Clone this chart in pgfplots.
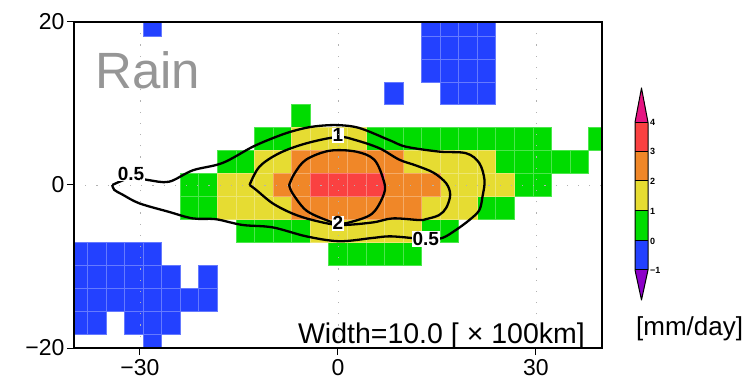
\documentclass[border=0pt]{standalone}
\usepackage{fontspec}
\setmainfont{Liberation Sans}
\usepackage{pgfplots}
\pgfplotsset{compat=1.18}
\definecolor{cblue}{RGB}{35,65,255}
\definecolor{cgreen}{RGB}{0,220,0}
\definecolor{cyellow}{RGB}{230,220,50}
\definecolor{corange}{RGB}{240,135,40}
\definecolor{cred}{RGB}{250,65,65}
\definecolor{cmag}{RGB}{230,20,130}
\definecolor{cpurple}{RGB}{140,0,200}
\definecolor{raingray}{RGB}{150,150,150}
\pgfplotsset{
  cell/.style={only marks, mark=square*, mark size=9.28bp,
    mark options={yscale=1.2347, fill=#1, draw=#1!70!white, line width=0.6bp}},
  contour/.style={black, line width=2.3bp, smooth, tension=0.55, mark=none},
}
\tikzset{
  clab/.style={fill=white, inner sep=1bp, font=\bfseries\fontsize{19bp}{21bp}\selectfont},
}
\begin{document}
\begin{tikzpicture}
\useasboundingbox (0,0) rectangle (752bp,380bp);
\begin{axis}[
  at={(74bp,32bp)}, anchor=south west, scale only axis,
  width=528bp, height=326bp,
  xmin=-40, xmax=40, ymin=-20, ymax=20,
  clip marker paths=true, clip mode=individual,
  xtick={-30,0,30}, ytick={-20,0,20},
  xticklabels={−30,0,30}, yticklabels={−20,0,20},
  xtick pos=bottom, ytick pos=left,
  tick align=outside, major tick length=7bp,
  tick style={black, line width=1bp},
  axis line style={black, line width=1.5bp},
  grid=major,
  major grid style={gray!60, dash pattern=on 1.2bp off 10bp, line width=0.8bp},
  axis on top,
  ticklabel style={font=\fontsize{23bp}{26bp}\selectfont},
  xticklabel style={yshift=-1bp},
  yticklabel style={xshift=1bp},
]
% blue cells (-1..0)
\addplot[cell=cblue] coordinates {
(-28.125,19.6875) (14.0625,19.6875) (16.875,19.6875) (19.6875,19.6875) (22.5,19.6875)
(14.0625,16.875) (16.875,16.875) (19.6875,16.875) (22.5,16.875)
(14.0625,14.0625) (16.875,14.0625) (19.6875,14.0625) (22.5,14.0625)
(8.4375,11.25) (16.875,11.25) (19.6875,11.25) (22.5,11.25)
(-39.375,-8.4375) (-36.5625,-8.4375) (-33.75,-8.4375) (-30.9375,-8.4375) (-28.125,-8.4375)
(-39.375,-11.25) (-36.5625,-11.25) (-33.75,-11.25) (-30.9375,-11.25) (-28.125,-11.25) (-25.3125,-11.25) (-19.6875,-11.25)
(-39.375,-14.0625) (-36.5625,-14.0625) (-33.75,-14.0625) (-30.9375,-14.0625) (-28.125,-14.0625) (-25.3125,-14.0625) (-22.5,-14.0625) (-19.6875,-14.0625)
(-39.375,-16.875) (-36.5625,-16.875) (-30.9375,-16.875) (-28.125,-16.875) (-25.3125,-16.875)
(-28.125,-19.6875)
};
% green cells (0..1)
\addplot[cell=cgreen] coordinates {
(-5.625,8.4375)
(-11.25,5.625) (-8.4375,5.625) (5.625,5.625) (8.4375,5.625) (11.25,5.625) (14.0625,5.625) (16.875,5.625) (19.6875,5.625) (22.5,5.625) (25.3125,5.625) (28.125,5.625) (30.9375,5.625) (39.375,5.625)
(-16.875,2.8125) (-14.0625,2.8125) (25.3125,2.8125) (28.125,2.8125) (30.9375,2.8125) (33.75,2.8125) (36.5625,2.8125)
(-22.5,0) (-19.6875,0) (28.125,0) (30.9375,0)
(-22.5,-2.8125) (-19.6875,-2.8125) (22.5,-2.8125) (25.3125,-2.8125)
(-14.0625,-5.625) (-11.25,-5.625) (-8.4375,-5.625) (-5.625,-5.625) (14.0625,-5.625) (16.875,-5.625)
(0,-8.4375) (2.8125,-8.4375) (5.625,-8.4375) (8.4375,-8.4375) (11.25,-8.4375)
};
% yellow cells (1..2)
\addplot[cell=cyellow] coordinates {
(-5.625,5.625) (-2.8125,5.625) (0,5.625) (2.8125,5.625)
(-11.25,2.8125) (-8.4375,2.8125) (11.25,2.8125) (14.0625,2.8125) (16.875,2.8125) (19.6875,2.8125) (22.5,2.8125)
(-16.875,0) (-14.0625,0) (-11.25,0) (16.875,0) (19.6875,0) (22.5,0) (25.3125,0)
(-16.875,-2.8125) (-14.0625,-2.8125) (-11.25,-2.8125) (-8.4375,-2.8125) (14.0625,-2.8125) (16.875,-2.8125) (19.6875,-2.8125)
(-2.8125,-5.625) (0,-5.625) (2.8125,-5.625) (5.625,-5.625) (8.4375,-5.625) (11.25,-5.625)
};
% orange cells (2..3)
\addplot[cell=corange] coordinates {
(-5.625,2.8125) (-2.8125,2.8125) (0,2.8125) (2.8125,2.8125) (5.625,2.8125) (8.4375,2.8125)
(-8.4375,0) (-5.625,0) (8.4375,0) (11.25,0) (14.0625,0)
(-5.625,-2.8125) (-2.8125,-2.8125) (0,-2.8125) (2.8125,-2.8125) (5.625,-2.8125) (8.4375,-2.8125) (11.25,-2.8125)
};
% red cells (3..4)
\addplot[cell=cred] coordinates {
(-2.8125,0) (0,0) (2.8125,0) (5.625,0)
};
% contour 0.5
\addplot[contour] coordinates {
(-34.2,0) (-31.3,0.9) (-28.7,0.6) (-25.6,0.4) (-22.0,1.8) (-17.5,2.7) (-12.9,4.7) (-9.4,5.9) (-6.9,6.6) (-3.9,7.15) (-0.3,7.35) (3.2,7.0) (7.8,5.5) (10.3,4.7) (15.3,4.1) (19.4,3.9) (21.4,2.7) (22.2,0.6) (21.9,-1.4) (21.4,-3.1) (19.9,-4.3) (17.9,-5.5) (15.8,-6.5) (13.3,-6.75) (11.1,-6.5) (7.8,-6.3) (5.2,-6.5) (0.2,-6.9) (-4.8,-6.3) (-9.9,-5.2) (-14.5,-4.9) (-18.5,-4.2) (-22.0,-4.1) (-25.6,-3.3) (-30.1,-2.25) (-32.6,-1.2) (-33.9,-0.6) (-34.2,0)
};
% contour 1
\addplot[contour] coordinates {
(-13.4,0) (-11.9,2.25) (-8.9,3.9) (-4.85,5.1) (0,5.9) (2.7,5.5) (6.3,4.5) (9.3,3.1) (11.8,2.4) (14.5,1.5) (16.4,0.2) (17.0,-1.2) (16.4,-2.8) (15.3,-3.7) (13.3,-4.2) (12.3,-4.3) (8.3,-4.1) (5.2,-4.6) (0.2,-4.9) (-3.85,-4.3) (-6.9,-3.5) (-9.9,-2.25) (-12.4,-0.6) (-13.4,0)
};
% contour 2
\addplot[contour] coordinates {
(-7.4,0) (-6.6,1.4) (-4.85,3.1) (-1.3,4.2) (2.7,4.1) (5.5,3.1) (6.9,0.6) (7.0,-1.0) (5.2,-3.5) (1.7,-4.6) (0,-4.7) (-1.8,-4.3) (-4.85,-3.1) (-6.9,-1.0) (-7.4,0)
};
\node[clab] at (axis cs:-31.35,1.4) {0.5};
\node[clab] at (axis cs:13.3,-6.6) {0.5};
\node[clab] at (axis cs:0,6.1) {1};
\node[clab] at (axis cs:0,-4.7) {2};
\end{axis}
% titles
\node[anchor=base west, inner sep=0, text=raingray, font=\fontsize{51bp}{56bp}\selectfont] at (95bp,291.7bp) {Rain};
\node[anchor=base east, inner sep=0, font=\fontsize{28.5bp}{32bp}\selectfont] at (585bp,36.7bp) {Width=10.0 [ × 100km]};
% colour bar
\begin{scope}[x=1bp,y=1bp]
\fill[cmag] (635,257.7) -- (641.5,292) -- (648,257.7) -- cycle;
\fill[cred] (635,228.3) rectangle (648,257.7);
\fill[corange] (635,199) rectangle (648,228.3);
\fill[cyellow] (635,169) rectangle (648,199);
\fill[cgreen] (635,139) rectangle (648,169);
\fill[cblue] (635,110) rectangle (648,139);
\fill[cpurple] (635,110) -- (641.5,80) -- (648,110) -- cycle;
\draw[line width=1bp, line join=round] (635,257.7) -- (641.5,292) -- (648,257.7) -- (648,110) -- (641.5,80) -- (635,110) -- cycle;
\foreach \yy in {257.7,228.3,199,169,139,110} \draw[line width=1bp] (635,\yy) -- (648,\yy);
\foreach \yy/\lab in {257.7/4,228.3/3,199/2,169/1,139/0,110/−1}
  \node[anchor=west, inner sep=0, font=\bfseries\fontsize{9bp}{10bp}\selectfont] at (650,\yy) {\lab};
\node[anchor=base west, inner sep=0, font=\fontsize{26bp}{30bp}\selectfont] at (636,45) {[mm/day]};
\end{scope}
\end{tikzpicture}
\end{document}
